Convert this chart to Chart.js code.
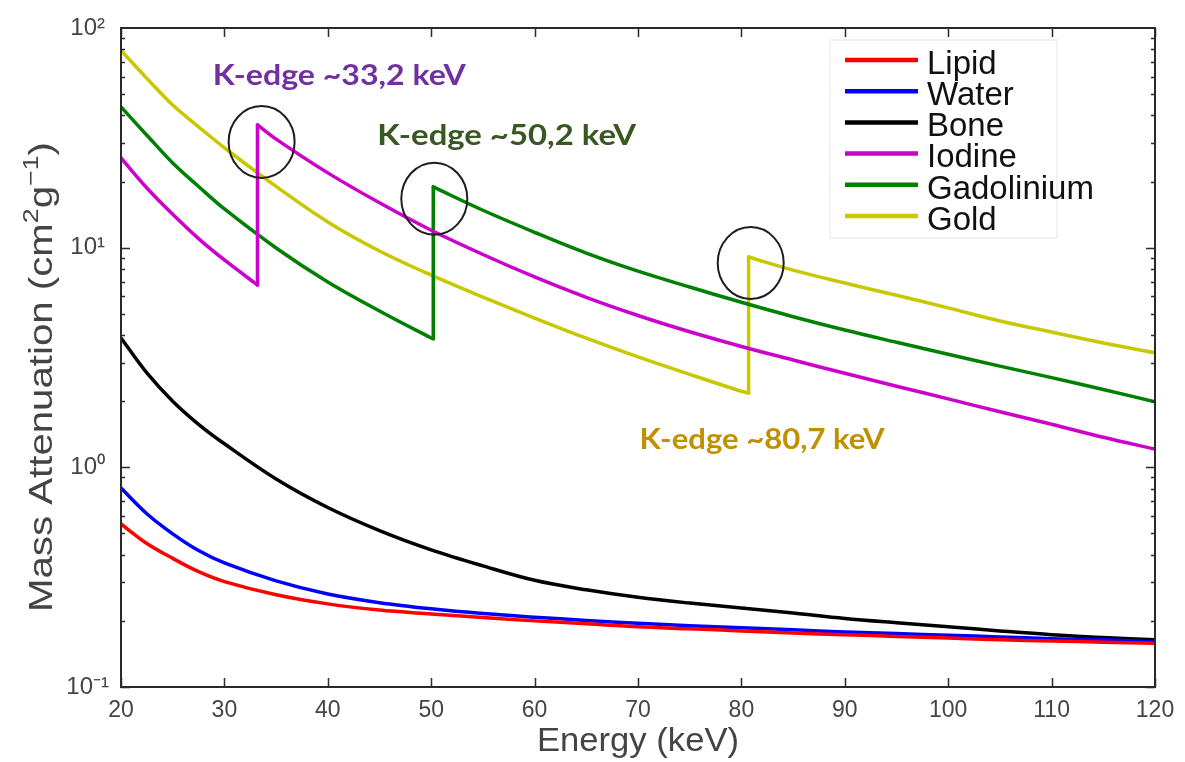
<!DOCTYPE html>
<html><head><meta charset="utf-8">
<script src="https://cdn.jsdelivr.net/npm/chart.js@4.4.0/dist/chart.umd.min.js"></script>
<style>html,body{margin:0;padding:0;background:#fff;}#wrap{width:1185px;height:762px;}</style>
</head><body><div id="wrap"><canvas id="c" width="1185" height="762"></canvas></div>
<script>
// ---- data ----
const energy = [20,22.5,25,27.5,30,35,40,45,50,55,60,65,70,75,80,85,90,95,100,105,110,115,120];
const lipid  = [0.552,0.450,0.385,0.335,0.302,0.263,0.239,0.224,0.215,0.207,0.200,0.194,0.188,0.184,0.180,0.176,0.173,0.170,0.167,0.164,0.162,0.160,0.158];
const water  = [0.805,0.615,0.498,0.418,0.367,0.304,0.265,0.242,0.227,0.216,0.208,0.201,0.195,0.190,0.186,0.182,0.178,0.175,0.172,0.169,0.166,0.164,0.160];
const bone   = [3.88,2.69,2.00,1.57,1.28,0.885,0.656,0.515,0.421,0.356,0.306,0.277,0.256,0.241,0.229,0.217,0.205,0.196,0.188,0.180,0.173,0.168,0.164];
const iodine = [25.6,18.7,14.2,11.0,8.79,31.2,21.9,16.0,12.0,9.31,7.36,5.94,4.91,4.14,3.55,3.08,2.68,2.34,2.05,1.79,1.57,1.37,1.21];
const gadolinium = [43.7,32.5,24.3,19.0,15.0,9.97,6.98,5.15,3.88,14.8,11.75,9.45,7.82,6.62,5.64,4.85,4.22,3.71,3.27,2.89,2.56,2.26,1.99];
const gold   = [79.0,59.0,44.6,35.5,28.5,19.0,13.1,9.66,7.50,5.96,4.78,3.87,3.18,2.65,2.22,7.90,6.90,6.07,5.32,4.64,4.13,3.68,3.32];
const iodineEdge = {e:33.2, pre:6.76, post:36.2};
const gadoliniumEdge = {e:50.2, pre:3.85, post:18.9};
const goldEdge = {e:80.7, pre:2.18, post:9.07};
const seriesNames = ['Lipid','Water','Bone','Iodine','Gadolinium','Gold'];
const seriesColors = ['#ff0000','#0000ff','#000000','#cc00cc','#008000','#c8c800'];
const xTicks = [20,30,40,50,60,70,80,90,100,110,120];
const yTicks = [0.1,1,10,100];
const yTickLabels = ['10\u207B\u00B9','10\u2070','10\u00B9','10\u00B2'];
const edgeLabels = [
  {text:'K-edge ~33,2 keV', e:41.1, v:61.1, color:'#7030a0', w:253},
  {text:'K-edge ~50,2 keV', e:57.3, v:32.6, color:'#385723', w:259},
  {text:'K-edge ~80,7 keV', e:82.0, v:1.35, color:'#bf9000', w:245}
];
const edgeCircles = [{e:33.6, v:30.3},{e:50.3, v:16.7},{e:80.9, v:8.51}];

// ---- build line pieces (a K-edge splits a curve into pre, jump, post) ----
function pieces(vals, edge){
  const all = energy.map((e,i)=>({x:e, y:vals[i]}));
  if(!edge) return [all];
  const pre = all.filter(p=>p.x < edge.e).concat([{x:edge.e, y:edge.pre}]);
  const jump = [{x:edge.e, y:edge.pre},{x:edge.e, y:edge.post}];
  const post = [{x:edge.e, y:edge.post}].concat(all.filter(p=>p.x > edge.e));
  return [pre, jump, post];
}
const seriesPieces = [pieces(lipid),pieces(water),pieces(bone),pieces(iodine,iodineEdge),pieces(gadolinium,gadoliniumEdge),pieces(gold,goldEdge)];
const datasets = [];
seriesPieces.forEach((list,i)=>{
  list.forEach((d,k)=>{
    datasets.push({label:seriesNames[i], data:d, borderColor:seriesColors[i], backgroundColor:seriesColors[i],
      fill:false, tension: d.length>2 ? 0.35 : 0, borderCapStyle:'round', borderJoinStyle:'round'});
  });
});

const AXIS_FONT = 'Liberation Sans, Arial, sans-serif';

function drawStretched(ctx, parts, cx, cy, rot, target, baseSize, color){
  ctx.save();
  ctx.fillStyle = color;
  let W = 0;
  parts.forEach(p=>{ ctx.font = (p.sup?Math.round(baseSize*0.66):baseSize)+'px '+AXIS_FONT; p.w = ctx.measureText(p.t).width; W += p.w; });
  const s = target ? target / W : 1;
  ctx.translate(cx, cy);
  ctx.rotate(rot);
  ctx.scale(s, 1);
  ctx.textBaseline = 'alphabetic';
  ctx.textAlign = 'left';
  let x = -W/2;
  const base = baseSize*0.716/2;
  parts.forEach(p=>{
    ctx.font = (p.sup?Math.round(baseSize*0.66):baseSize)+'px '+AXIS_FONT;
    ctx.fillText(p.t, x, p.sup ? base - baseSize*0.42 : base);
    x += p.w;
  });
  ctx.restore();
}

const decor = {
  id:'decor',
  afterDraw(chart){
    const ctx = chart.ctx, a = chart.chartArea;
    const xs = chart.scales.x, ys = chart.scales.y;
    ctx.save();
    // frame
    ctx.strokeStyle = '#2a2a2a'; ctx.lineWidth = 2;
    ctx.strokeRect(a.left, a.top, a.right-a.left, a.bottom-a.top);
    // x ticks (bottom & top, inward)
    ctx.lineWidth = 1.5;
    ctx.beginPath();
    xTicks.forEach(v=>{
      const px = Math.round(xs.getPixelForValue(v))+0.5;
      ctx.moveTo(px, a.bottom); ctx.lineTo(px, a.bottom-9);
      ctx.moveTo(px, a.top); ctx.lineTo(px, a.top+9);
    });
    // y ticks major + minor (left & right, inward)
    for(let d=-1; d<2; d++){
      for(let m=1; m<=9; m++){
        const v = m*Math.pow(10,d);
        const py = Math.round(ys.getPixelForValue(v))+0.5;
        const len = m===1 ? 9 : 4;
        ctx.moveTo(a.left, py); ctx.lineTo(a.left+len, py);
        ctx.moveTo(a.right, py); ctx.lineTo(a.right-len, py);
      }
    }
    ctx.stroke();
    // circles around the edges
    ctx.strokeStyle = '#1e1e1e'; ctx.lineWidth = 2;
    edgeCircles.forEach(c=>{
      ctx.beginPath();
      ctx.ellipse(xs.getPixelForValue(c.e), ys.getPixelForValue(c.v), 33, 36, 0, 0, Math.PI*2);
      ctx.stroke();
    });
    // edge labels
    edgeLabels.forEach(l=>{
      ctx.save();
      ctx.font = 'bold 29px Lato, "Open Sans", sans-serif';
      const w = ctx.measureText(l.text).width;
      const s = l.w / w;
      ctx.translate(xs.getPixelForValue(l.e), ys.getPixelForValue(l.v));
      ctx.scale(s,1);
      ctx.fillStyle = l.color;
      ctx.textAlign = 'center'; ctx.textBaseline = 'alphabetic';
      ctx.fillText(l.text, 0, 29*0.72/2);
      ctx.restore();
    });
    // legend
    const lx = a.right - 325, ly = a.top + 12, lw = 227, lh = 198;
    ctx.fillStyle = '#ffffff';
    ctx.fillRect(lx, ly, lw, lh);
    ctx.strokeStyle = '#eeeeee'; ctx.lineWidth = 1.5;
    ctx.strokeRect(lx, ly, lw, lh);
    seriesNames.forEach((name,i)=>{
      const ry = ly + 20 + i*31.2;
      ctx.strokeStyle = seriesColors[i]; ctx.lineWidth = 4.5;
      ctx.beginPath(); ctx.moveTo(lx+15, ry); ctx.lineTo(lx+88, ry); ctx.stroke();
      ctx.fillStyle = '#111111';
      ctx.font = '33px '+AXIS_FONT;
      ctx.textAlign = 'left'; ctx.textBaseline = 'alphabetic';
      ctx.fillText(name, lx+97, ry + 2 + 33*0.716/2);
    });
    ctx.restore();
    // axis titles
    drawStretched(ctx, [{t:'Energy (keV)'}], (a.left+a.right)/2, 739, 0, 202, 33, '#444444');
    drawStretched(ctx, [{t:'Mass Attenuation (cm'},{t:'2',sup:true},{t:'g'},{t:'\u22121',sup:true},{t:')'}], 40, 377, -Math.PI/2, 470, 33, '#444444');
  }
};

new Chart(document.getElementById('c').getContext('2d'), {
  type:'line',
  data:{datasets: datasets},
  options:{
    responsive:false, animation:false,
    layout:{padding:{top:28,right:30,left:0,bottom:0}},
    plugins:{legend:{display:false}, tooltip:{enabled:false}},
    elements:{point:{radius:0}, line:{borderWidth:3.5}},
    scales:{
      x:{type:'linear', min:20, max:120,
        afterBuildTicks: s=>{ s.ticks = xTicks.map(v=>({value:v})); },
        afterFit: s=>{ s.height = 75; },
        ticks:{font:{family:AXIS_FONT,size:23}, color:'#444444', padding:10, maxRotation:0, autoSkip:false},
        grid:{display:false, drawTicks:false}, border:{display:false}},
      y:{type:'logarithmic', min:0.1, max:100,
        afterBuildTicks: s=>{ s.ticks = yTicks.map(v=>({value:v, major:true})); },
        afterFit: s=>{ s.width = 121; },
        ticks:{font:{family:AXIS_FONT,size:24}, color:'#444444', padding:12, crossAlign:'center', autoSkip:false,
          callback:(v)=>{ const i = yTicks.indexOf(v); return i>=0 ? yTickLabels[i] : ''; }},
        grid:{display:false, drawTicks:false}, border:{display:false}}
    }
  },
  plugins:[decor]
});
</script></body></html>
